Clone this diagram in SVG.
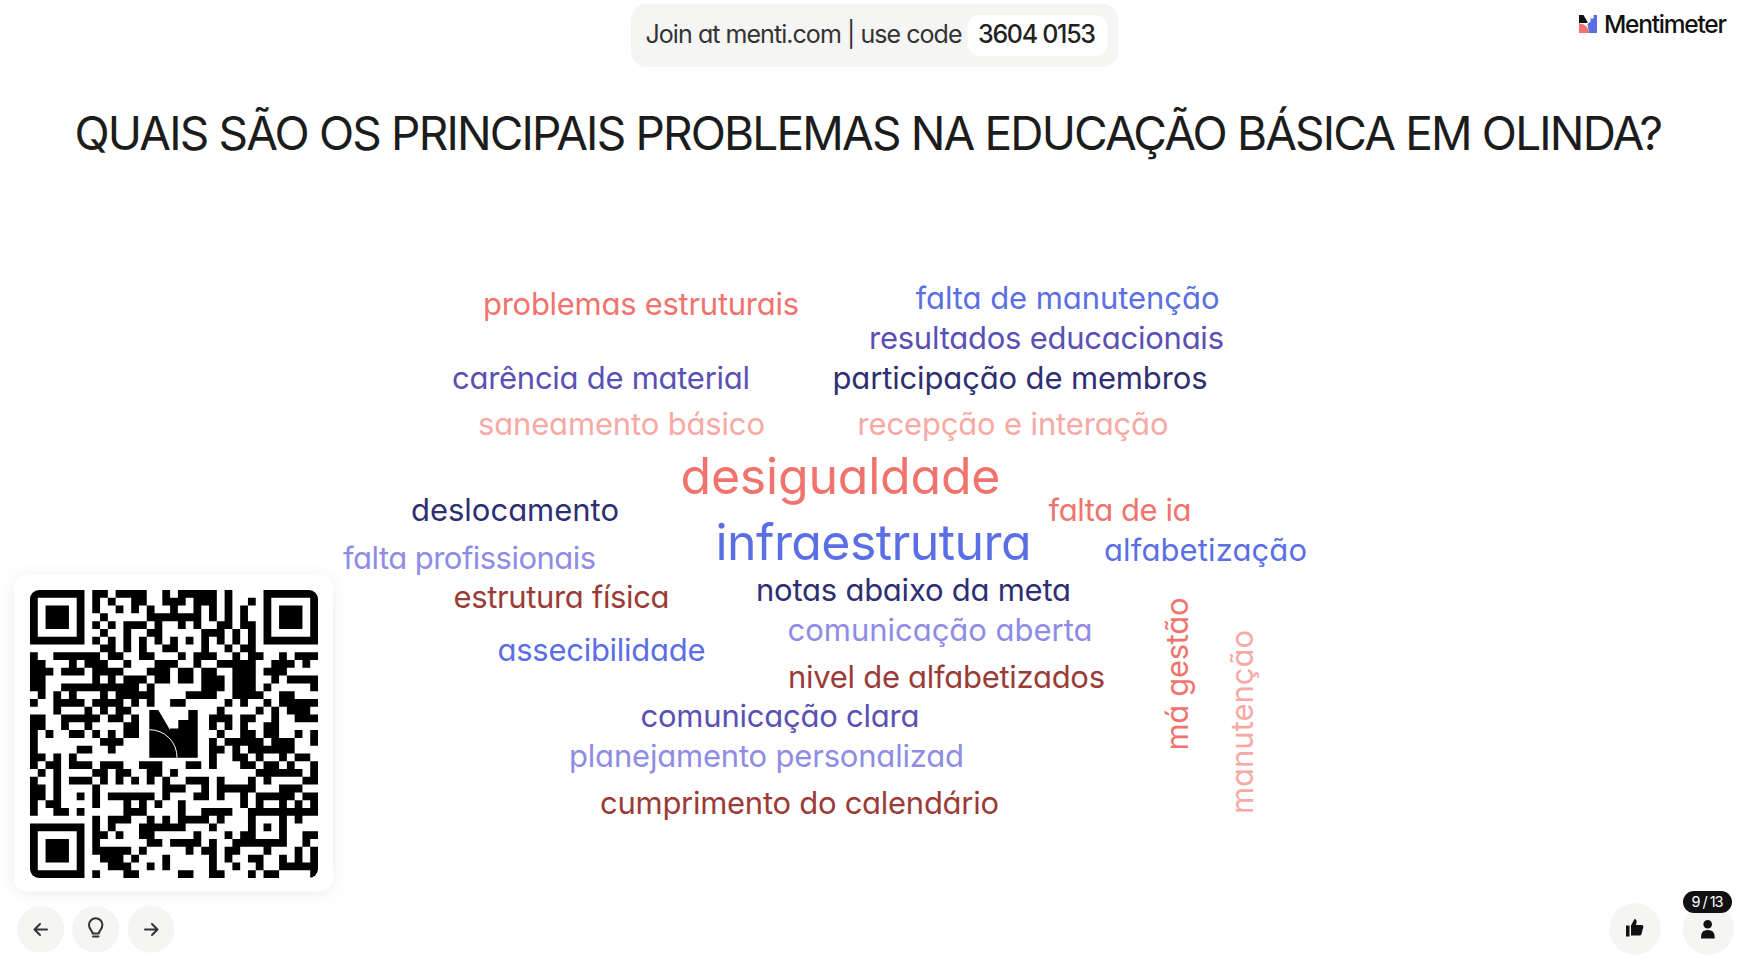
<svg xmlns="http://www.w3.org/2000/svg" width="1743" height="962" viewBox="0 0 1743 962">
<style>
text{font-family:Inter,"Liberation Sans",sans-serif;font-feature-settings:"cv11" 1;}
.w{font-size:31px;font-weight:400}
.b{font-size:50px;font-weight:400}
.coral{fill:#F1736D}.blue{fill:#5B6FE4}.indigo{fill:#5A50B4}.navy{fill:#2E2F72}.pink{fill:#F7A9A4}.lav{fill:#8F8CE6}.brick{fill:#9B3B37}
.btn{fill:#F5F5F3}
.ic{fill:none;stroke:#333;stroke-width:2;stroke-linecap:round;stroke-linejoin:round}
</style>
<defs>
<filter id="sh" x="-20%" y="-20%" width="140%" height="140%"><feDropShadow dx="0" dy="2" stdDeviation="8" flood-color="#000" flood-opacity="0.07"/></filter>
<clipPath id="qc"><rect x="30" y="590" width="288" height="288" rx="9"/></clipPath>
</defs>
<rect width="1743" height="962" fill="#fff"/>
<g id="join">
<rect x="631" y="4" width="487" height="63" rx="15" class="btn"/>
<rect x="967.500" y="15" width="140" height="41" rx="12" fill="#fff"/>
<text x="645.500" y="42.500" font-size="25" fill="#333" textLength="317">Join at menti.com | use code</text>
<text x="978" y="42.500" font-size="25" font-weight="500" fill="#222" textLength="118">3604 0153</text>
</g>
<g id="brand">
<path d="M1579 15h4.500l4 7v1h-8.500z" fill="#111"/>
<path d="M1587.500 24l3-2.500V18.500h3V15h3.500V33H1589z" fill="#5B6FE4"/>
<path d="M1579 23.500A9.500 9.500 0 0 1 1589 33H1579z" fill="#F1736D"/>
<text x="1604" y="32.500" font-size="24.500" font-weight="500" fill="#111" textLength="123">Mentimeter</text>
</g>
<text id="title" x="74.500" y="150" font-size="46" fill="#1c1c1c" textLength="1588.500">QUAIS SÃO OS PRINCIPAIS PROBLEMAS NA EDUCAÇÃO BÁSICA EM OLINDA?</text>
<g id="cloud">
<text class="w coral" x="483" y="315" textLength="316">problemas estruturais</text>
<text class="w blue" x="915.500" y="309" textLength="304">falta de manutenção</text>
<text class="w indigo" x="869" y="349" textLength="355">resultados educacionais</text>
<text class="w indigo" x="452" y="389" textLength="298">carência de material</text>
<text class="w navy" x="832.500" y="389" textLength="375">participação de membros</text>
<text class="w pink" x="478" y="435" textLength="287">saneamento básico</text>
<text class="w pink" x="857.500" y="435" textLength="311">recepção e interação</text>
<text class="b coral" x="680.500" y="494" textLength="320">desigualdade</text>
<text class="w navy" x="411" y="521" textLength="208">deslocamento</text>
<text class="w coral" x="1048.500" y="521" textLength="143">falta de ia</text>
<text class="b blue" x="715.500" y="560" textLength="316">infraestrutura</text>
<text class="w lav" x="343" y="568.500" textLength="253">falta profissionais</text>
<text class="w blue" x="1104" y="560.500" textLength="203">alfabetização</text>
<text class="w brick" x="453.500" y="608" textLength="216">estrutura física</text>
<text class="w navy" x="756" y="600.500" textLength="315">notas abaixo da meta</text>
<text class="w lav" x="787.500" y="641" textLength="305">comunicação aberta</text>
<text class="w blue" x="497.500" y="661" textLength="208">assecibilidade</text>
<text class="w brick" x="788" y="688" textLength="317">nivel de alfabetizados</text>
<text class="w indigo" x="640.500" y="727" textLength="279">comunicação clara</text>
<text class="w lav" x="569" y="767" textLength="395">planejamento personalizad</text>
<text class="w brick" x="600" y="814" textLength="399">cumprimento do calendário</text>
<text class="w coral" transform="translate(1187.500 750.500) rotate(-90)" textLength="153">má gestão</text>
<text class="w pink" transform="translate(1253 814) rotate(-90)" textLength="184">manutenção</text>
</g>
<g id="qr">
<rect x="14" y="574.500" width="319" height="317" rx="14" fill="#fff" filter="url(#sh)"/>
<g clip-path="url(#qc)">
<path transform="translate(30 590) scale(7.784)" fill="#000" d="M0 0h7v7h-7zM1 1v5h5v-5zM2 2h3v3h-3zM30 0h7v7h-7zM31 1v5h5v-5zM32 2h3v3h-3zM0 30h7v7h-7zM1 31v5h5v-5zM2 32h3v3h-3z" fill-rule="evenodd"/>
<path transform="translate(30 590) scale(7.784)" fill="#000" d="
M8 0h2v1h-2zM11 0h4v1h-4zM17 0h1v1h-1zM19 0h5v1h-5zM25 0h1v1h-1z
M8 1h1v1h-1zM10 1h1v1h-1zM13 1h2v1h-2zM17 1h3v1h-3zM21 1h3v1h-3zM25 1h1v1h-1zM28 1h1v1h-1z
M8 2h1v1h-1zM11 2h1v1h-1zM13 2h1v1h-1zM15 2h1v1h-1zM18 2h1v1h-1zM21 2h1v1h-1zM23 2h1v1h-1zM25 2h1v1h-1zM27 2h1v1h-1z
M9 3h1v1h-1zM15 3h7v1h-7zM23 3h1v1h-1zM25 3h1v1h-1zM27 3h1v1h-1z
M8 4h1v1h-1zM10 4h1v1h-1zM12 4h3v1h-3zM16 4h1v1h-1zM19 4h1v1h-1zM21 4h1v1h-1zM24 4h2v1h-2zM27 4h2v1h-2z
M9 5h1v1h-1zM12 5h1v1h-1zM15 5h2v1h-2zM22 5h3v1h-3zM26 5h1v1h-1zM28 5h1v1h-1z
M8 6h1v1h-1zM10 6h1v1h-1zM12 6h1v1h-1zM14 6h1v1h-1zM16 6h1v1h-1zM18 6h1v1h-1zM20 6h1v1h-1zM22 6h1v1h-1zM24 6h1v1h-1zM26 6h1v1h-1zM28 6h1v1h-1z
M9 7h2v1h-2zM12 7h1v1h-1zM14 7h1v1h-1zM17 7h2v1h-2zM22 7h1v1h-1zM25 7h1v1h-1zM27 7h2v1h-2z
M0 8h1v1h-1zM3 8h6v1h-6zM10 8h2v1h-2zM14 8h2v1h-2zM19 8h1v1h-1zM21 8h3v1h-3zM26 8h1v1h-1zM28 8h2v1h-2zM32 8h1v1h-1zM34 8h3v1h-3z
M0 9h2v1h-2zM5 9h1v1h-1zM7 9h3v1h-3zM12 9h1v1h-1zM16 9h3v1h-3zM21 9h1v1h-1zM24 9h5v1h-5zM31 9h3v1h-3zM35 9h1v1h-1z
M0 10h3v1h-3zM4 10h3v1h-3zM8 10h4v1h-4zM15 10h3v1h-3zM19 10h2v1h-2zM22 10h2v1h-2zM26 10h3v1h-3zM30 10h3v1h-3z
M0 11h2v1h-2zM8 11h1v1h-1zM10 11h1v1h-1zM12 11h3v1h-3zM16 11h2v1h-2zM19 11h2v1h-2zM22 11h3v1h-3zM26 11h3v1h-3zM31 11h1v1h-1zM33 11h4v1h-4z
M0 12h2v1h-2zM4 12h10v1h-10zM15 12h1v1h-1zM22 12h3v1h-3zM26 12h3v1h-3zM30 12h1v1h-1zM36 12h1v1h-1z
M1 13h1v1h-1zM3 13h1v1h-1zM5 13h1v1h-1zM9 13h1v1h-1zM11 13h3v1h-3zM14 13h2v1h-2zM20 13h4v1h-4zM26 13h4v1h-4zM32 13h2v1h-2z
M0 14h1v1h-1zM3 14h4v1h-4zM8 14h4v1h-4zM13 14h1v1h-1zM15 14h1v1h-1zM18 14h2v1h-2zM25 14h1v1h-1zM27 14h1v1h-1zM30 14h1v1h-1zM32 14h4v1h-4zM36 14h1v1h-1z
M3 15h1v1h-1zM7 15h1v1h-1zM9 15h1v1h-1zM11 15h2v1h-2zM24 15h1v1h-1zM29 15h1v1h-1zM31 15h1v1h-1zM33 15h3v1h-3z
M0 16h2v1h-2zM4 16h5v1h-5zM10 16h2v1h-2zM13 16h1v1h-1zM23 16h3v1h-3zM27 16h2v1h-2zM31 16h1v1h-1zM34 16h3v1h-3z
M0 17h2v1h-2zM4 17h1v1h-1zM7 17h1v1h-1zM12 17h2v1h-2zM23 17h1v1h-1zM25 17h1v1h-1zM27 17h1v1h-1zM30 17h2v1h-2z
M0 18h1v1h-1zM2 18h1v1h-1zM5 18h2v1h-2zM8 18h1v1h-1zM10 18h1v1h-1zM12 18h2v1h-2zM24 18h1v1h-1zM27 18h2v1h-2zM30 18h2v1h-2zM34 18h1v1h-1zM36 18h1v1h-1z
M0 19h1v1h-1zM9 19h3v1h-3zM23 19h1v1h-1zM25 19h5v1h-5zM31 19h3v1h-3zM36 19h1v1h-1z
M0 20h1v1h-1zM6 20h2v1h-2zM10 20h1v1h-1zM23 20h2v1h-2zM26 20h1v1h-1zM28 20h6v1h-6z
M0 21h2v1h-2zM3 21h1v1h-1zM5 21h1v1h-1zM23 21h1v1h-1zM26 21h2v1h-2zM29 21h1v1h-1zM32 21h1v1h-1zM34 21h2v1h-2z
M0 22h1v1h-1zM2 22h2v1h-2zM5 22h3v1h-3zM9 22h3v1h-3zM14 22h3v1h-3zM20 22h2v1h-2zM23 22h1v1h-1zM27 22h2v1h-2zM30 22h2v1h-2zM33 22h1v1h-1zM36 22h1v1h-1z
M1 23h1v1h-1zM3 23h1v1h-1zM8 23h2v1h-2zM11 23h2v1h-2zM15 23h2v1h-2zM18 23h1v1h-1zM29 23h6v1h-6zM36 23h1v1h-1z
M0 24h1v1h-1zM3 24h1v1h-1zM5 24h3v1h-3zM9 24h1v1h-1zM11 24h1v1h-1zM13 24h1v1h-1zM15 24h1v1h-1zM17 24h1v1h-1zM20 24h3v1h-3zM24 24h1v1h-1zM28 24h1v1h-1zM30 24h1v1h-1zM35 24h2v1h-2z
M0 25h2v1h-2zM3 25h1v1h-1zM8 25h1v1h-1zM17 25h3v1h-3zM22 25h1v1h-1zM24 25h5v1h-5zM32 25h3v1h-3z
M0 26h2v1h-2zM3 26h1v1h-1zM6 26h1v1h-1zM8 26h1v1h-1zM10 26h6v1h-6zM17 26h1v1h-1zM21 26h2v1h-2zM24 26h1v1h-1zM27 26h1v1h-1zM29 26h4v1h-4zM33 26h1v1h-1zM35 26h2v1h-2z
M0 27h1v1h-1zM2 27h2v1h-2zM8 27h1v1h-1zM12 27h1v1h-1zM14 27h1v1h-1zM16 27h1v1h-1zM19 27h1v1h-1zM27 27h1v1h-1zM29 27h1v1h-1zM32 27h1v1h-1zM34 27h1v1h-1zM36 27h1v1h-1z
M0 28h1v1h-1zM3 28h2v1h-2zM6 28h1v1h-1zM12 28h3v1h-3zM19 28h1v1h-1zM22 28h4v1h-4zM28 28h6v1h-6zM34 28h3v1h-3z
M8 29h1v1h-1zM10 29h3v1h-3zM15 29h1v1h-1zM17 29h1v1h-1zM19 29h4v1h-4zM24 29h1v1h-1zM28 29h1v1h-1zM32 29h1v1h-1zM34 29h1v1h-1z
M8 30h1v1h-1zM10 30h1v1h-1zM14 30h6v1h-6zM23 30h1v1h-1zM28 30h1v1h-1zM30 30h1v1h-1zM32 30h1v1h-1z
M8 31h2v1h-2zM11 31h1v1h-1zM14 31h2v1h-2zM21 31h1v1h-1zM25 31h1v1h-1zM27 31h2v1h-2zM32 31h1v1h-1zM35 31h2v1h-2z
M8 32h1v1h-1zM15 32h2v1h-2zM18 32h4v1h-4zM23 32h1v1h-1zM26 32h7v1h-7zM35 32h1v1h-1z
M8 33h5v1h-5zM14 33h1v1h-1zM20 33h1v1h-1zM22 33h2v1h-2zM25 33h2v1h-2zM30 33h1v1h-1zM34 33h1v1h-1zM36 33h1v1h-1z
M9 34h3v1h-3zM13 34h1v1h-1zM17 34h1v1h-1zM23 34h1v1h-1zM25 34h1v1h-1zM28 34h2v1h-2zM32 34h1v1h-1zM34 34h1v1h-1zM36 34h1v1h-1z
M10 35h3v1h-3zM15 35h1v1h-1zM17 35h1v1h-1zM23 35h1v1h-1zM26 35h1v1h-1zM29 35h1v1h-1zM32 35h5v1h-5z
M8 36h1v1h-1zM12 36h2v1h-2zM19 36h2v1h-2zM23 36h2v1h-2zM28 36h1v1h-1zM30 36h2v1h-2zM36 36h1v1h-1z"/>
</g>
<path d="M149.300 710h9l11.700 20v-1.500h8.300V720h10V710h9.400V757.700H149.300z" fill="#000"/>
<path d="M149.300 729.700A27.500 27.500 0 0 1 177 757.700" fill="none" stroke="#fff" stroke-width="1"/>
</g>
<g id="nav-back"><circle cx="40.700" cy="929.300" r="23.500" class="btn"/><path class="ic" d="M47 929.500H35M40 924l-5.500 5.500L40 935"/></g>
<g id="nav-hint"><circle cx="95.700" cy="929.300" r="23.500" class="btn"/><path class="ic" d="M92.500 933.500c0-3-3.500-4-3.500-8.500a6.700 6.700 0 0 1 13.400 0c0 4.500-3.500 5.500-3.500 8.500zM93 936.500h5.500" stroke-width="1.700"/></g>
<g id="nav-next"><circle cx="151" cy="929.300" r="23.500" class="btn"/><path class="ic" d="M145 929.500h12M152 924l5.500 5.500L152 935"/></g>
<g id="like"><circle cx="1635" cy="929" r="25.700" class="btn"/><path d="M1626 925.500h3.500v11H1626zM1631 925.500l3.500-6.500c2 .5 2.500 2 2 3.500l-.5 2.500h5.500c1.500 0 2 1 1.800 2l-1.800 7c-.3 1-1 1.500-2 1.500H1631z" fill="#111"/></g>
<g id="audience"><circle cx="1708.300" cy="929" r="25.700" class="btn"/><circle cx="1707.700" cy="924.300" r="4.300" fill="#111"/><path d="M1701 938.500c0-5 1-8.500 6.800-8.500s6.900 3.500 6.900 8.500z" fill="#111"/>
<rect x="1683" y="891" width="49" height="22" rx="11" fill="#111"/><text x="1691.500" y="907" font-size="14.500" fill="#fff" textLength="32">9 / 13</text></g>
</svg>
